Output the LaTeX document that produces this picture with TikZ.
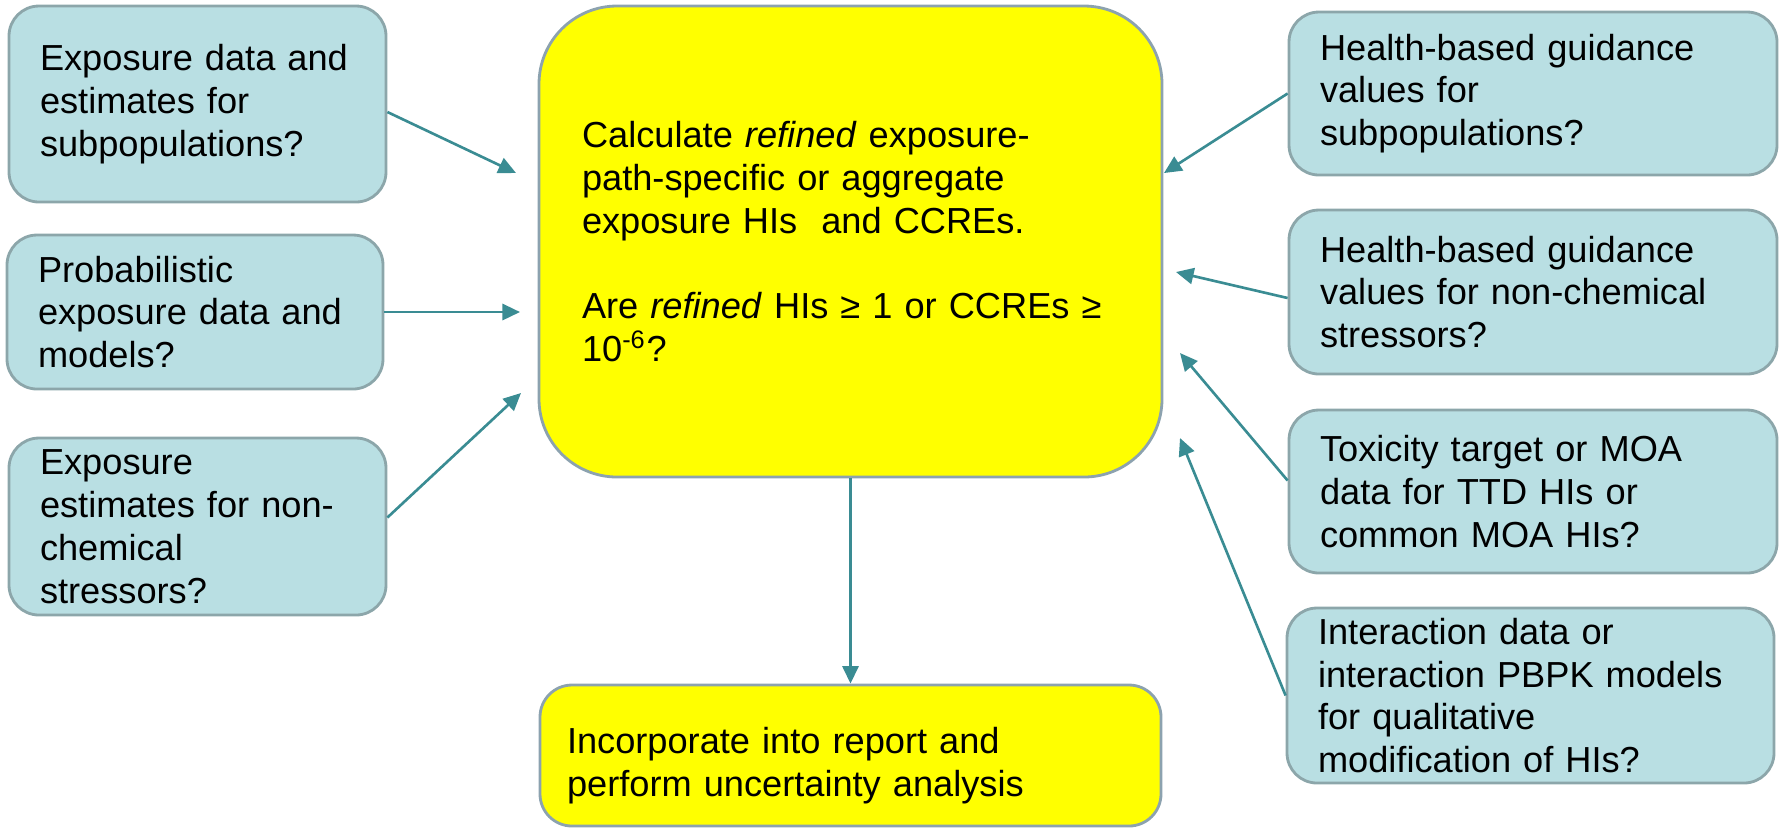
\documentclass[tikz,border=0pt]{standalone}
\usepackage{fontspec}
\setmainfont{Liberation Sans}
\usetikzlibrary{arrows.meta}
\definecolor{boxblue}{RGB}{185, 223, 227}
\definecolor{boxline}{RGB}{140, 166, 170}
\definecolor{yelline}{RGB}{140, 162, 175}
\definecolor{flowteal}{RGB}{58, 140, 147}
\definecolor{yel}{RGB}{255, 255, 0}

\tikzset{
  sidebox/.style={draw=boxline,line width=0.8pt,fill=boxblue,rounded corners=0.3cm,
    align=left,inner xsep=0.31cm,inner ysep=0.03cm,
    font=\fontsize{10.3}{12.2}\selectfont},
  mainbox/.style={draw=yelline,line width=0.8pt,fill=yel,align=left,inner ysep=0.03cm,
    font=\fontsize{10.3}{12.2}\selectfont},
  flow/.style={draw=flowteal,line width=0.75pt,-{Triangle[length=5pt,width=4.6pt]}}
}

\begin{document}
\begin{tikzpicture}
\useasboundingbox (0,0) rectangle (17.81,-8.27);

\node[mainbox,rounded corners=0.78cm,inner xsep=0.43cm,text width=5.37cm,minimum height=4.71cm] (C) at (8.505,-2.415)
  {Calculate \textit{refined} exposure-\\path-specific or aggregate\\exposure HIs\ \ and CCREs.\\[12.2pt]Are \textit{refined} HIs ≥ 1 or CCREs ≥\\10\textsuperscript{-6}?};
\node[mainbox,rounded corners=0.32cm,inner xsep=0.27cm,text width=5.67cm,minimum height=1.41cm] (R) at (8.505,-7.555)
  {\rule{0pt}{13pt}Incorporate into report and\\perform uncertainty analysis};

\node[sidebox,text width=3.15cm,minimum height=1.96cm] (E1) at (1.975,-1.04) {Exposure data and\\estimates for\\subpopulations?};
\node[sidebox,text width=3.14cm,minimum height=1.54cm] (E2) at (1.95,-3.12) {Probabilistic\\exposure data and\\models?};
\node[sidebox,text width=3.15cm,minimum height=1.77cm] (E3) at (1.975,-5.265) {Exposure\\estimates for non-\\chemical\\stressors?};

\node[sidebox,text width=4.26cm,minimum height=1.63cm] (H1) at (15.33,-0.935) {Health-based guidance\\values for\\subpopulations?};
\node[sidebox,text width=4.26cm,minimum height=1.64cm] (H2) at (15.33,-2.92) {Health-based guidance\\values for non-chemical\\stressors?};
\node[sidebox,text width=4.26cm,minimum height=1.63cm] (T) at (15.33,-4.915) {Toxicity target or MOA\\data for TTD HIs or\\common MOA HIs?};
\node[sidebox,text width=4.25cm,minimum height=1.75cm] (I) at (15.305,-6.955) {Interaction data or\\interaction PBPK models\\for qualitative\\modification of HIs?};

% free ends of the arrows, just off the yellow box
\coordinate (e1) at (5.16,-1.73);
\coordinate (e2) at (5.20,-3.12);
\coordinate (e3) at (5.21,-3.93);
\coordinate (h1) at (11.64,-1.73);
\coordinate (h2) at (11.76,-2.72);
\coordinate (t) at (11.80,-3.53);
\coordinate (i) at (11.80,-4.38);

\path ([yshift=-0.08cm]E1.east) edge[flow] (e1);
\path (E2.east) edge[flow] (e2);
\path ([yshift=0.09cm]E3.east) edge[flow] (e3);
\path (H1.west) edge[flow] (h1);
\path ([yshift=-0.06cm]H2.west) edge[flow] (h2);
\path ([yshift=0.11cm]T.west) edge[flow] (t);
\path (I.west) edge[flow] (i);
\path (C.south) edge[flow] (R.north);
\end{tikzpicture}
\end{document}
